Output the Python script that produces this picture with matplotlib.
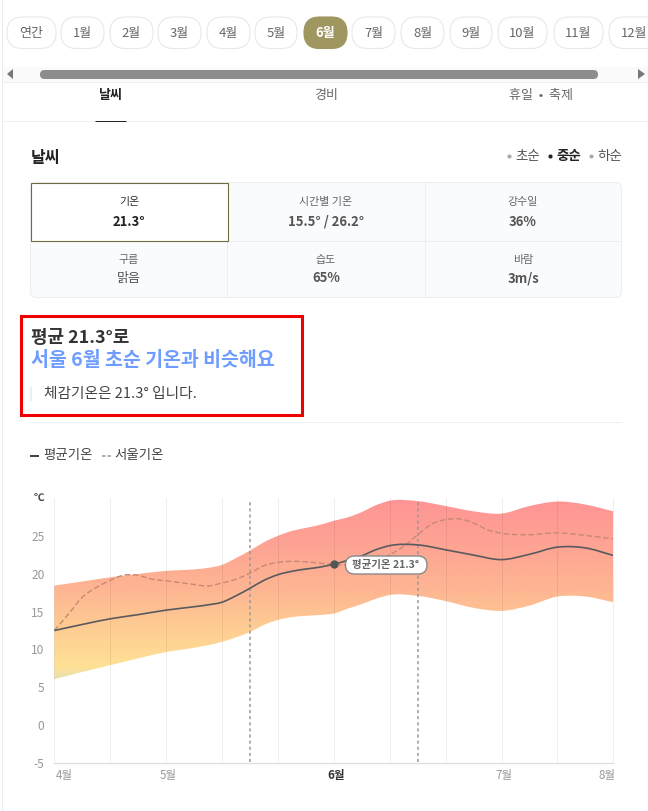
import numpy as np
import matplotlib
matplotlib.use("Agg")
import matplotlib.pyplot as plt
from matplotlib.patches import FancyBboxPatch, Rectangle, PathPatch, Polygon
from matplotlib.path import Path
from matplotlib.colors import LinearSegmentedColormap
from matplotlib.transforms import ScaledTranslation

plt.rcParams['font.family'] = ['Noto Sans CJK KR', 'DejaVu Sans']

# ---- data ----
month_tabs = ['연간', '1월', '2월', '3월', '4월', '5월', '6월', '7월', '8월', '9월', '10월', '11월', '12월']
section_tabs = ['날씨', '경비', '휴일  •  축제']
periods = ['초순', '중순', '하순']
cell_labels = ['기온', '시간별 기온', '강수일', '구름', '습도', '바람']
cell_values = ['21.3°', '15.5° / 26.2°', '36%', '맑음', '65%', '3m/s']

y_ticks = [-5, 0, 5, 10, 15, 20, 25]
x_tick_pos = [0, 2, 5, 8, 10]
x_tick_labels = ['4월', '5월', '6월', '7월', '8월']
band_x = [0, .5, 1, 1.5, 2, 2.5, 2.75, 3, 3.25, 3.5, 3.75, 4, 4.25, 4.5, 4.75, 5, 5.25, 5.5, 5.75, 6, 6.5, 7, 7.5, 8, 8.5, 9, 9.5, 10]
upper = [18.45, 19.0, 19.55, 20.0, 20.4, 20.6, 20.8, 21.2, 22.1, 23.1, 24.2, 25.05, 25.7, 26.1, 26.5, 27.05, 27.5, 28.2, 29.1, 29.7, 29.65, 29.0, 28.3, 28.0, 29.0, 29.6, 29.2, 28.3]
lower = [6.05, 7.0, 7.9, 8.8, 9.65, 10.2, 10.55, 11.0, 11.6, 12.3, 13.25, 13.9, 14.28, 14.45, 14.55, 14.75, 15.4, 16.0, 16.7, 17.2, 17.1, 16.4, 15.5, 15.1, 15.8, 17.0, 17.0, 16.25]
mean = [12.5, 13.3, 14.05, 14.6, 15.2, 15.65, 15.9, 16.25, 17.1, 18.1, 19.15, 19.9, 20.35, 20.65, 20.9, 21.3, 21.8, 22.4, 23.2, 23.75, 23.85, 23.2, 22.5, 21.9, 22.6, 23.55, 23.45, 22.45]
seoul_x = [0, .25, .5, .75, 1, 1.25, 1.5, 1.75, 2, 2.5, 2.75, 3, 3.25, 3.5, 3.75, 4, 4.25, 4.5, 5, 5.5, 6, 6.25, 6.5, 6.75, 7, 7.25, 7.5, 7.75, 8, 8.5, 9, 9.5, 10]
seoul = [12.5, 14.65, 16.9, 18.2, 19.15, 19.85, 19.8, 19.3, 19.1, 18.6, 18.4, 18.8, 19.3, 20.1, 21.1, 21.54, 21.67, 21.6, 21.25, 21.3, 22.55, 23.66, 25.2, 26.6, 27.2, 27.3, 26.75, 25.85, 25.4, 25.2, 25.45, 25.1, 24.65]
marker_x, marker_v = 5, 21.3
period_lines = [3.5, 6.5]

W, H = 648, 811
fig = plt.figure(figsize=(W / 100, H / 100), dpi=100, facecolor='white')
pg = fig.add_axes([0, 0, 1, 1], zorder=1)
pg.set_xlim(0, W); pg.set_ylim(H, 0); pg.axis('off')


def T(x, y, s, px, color='#555555', ha='center', weight='normal', ax=pg, **k):
    return ax.text(x, y + 1.5, s, fontsize=px * 0.72, color=color, ha=ha, va='center', fontweight=weight, **k)


def R(x0, y0, x1, y1, fc='none', ec='none', lw=1, rad=0, z=1):
    if rad:
        p = FancyBboxPatch((x0 + rad, y0 + rad), x1 - x0 - 2 * rad, y1 - y0 - 2 * rad,
                           boxstyle=f'round,pad={rad},rounding_size={rad}', fc=fc, ec=ec, lw=lw, zorder=z)
    else:
        p = Rectangle((x0, y0), x1 - x0, y1 - y0, fc=fc, ec=ec, lw=lw, zorder=z)
    pg.add_patch(p)
    return p


def HL(y, x0, x1, c, lw=1, z=2):
    pg.plot([x0, x1], [y, y], color=c, lw=lw * .72, solid_capstyle='butt', zorder=z)


# left page border
R(2, 0, 3, H, fc='#e9ecf2')

# month pills
pill_edges = [(7, 56), (61, 104), (110, 153), (158, 201), (207, 250), (255, 297), (304, 347),
              (352, 395), (401, 444), (450, 492), (498, 547), (554, 603), (609, 668)]
pill_text_x = [31.5, 82.5, 131.5, 179.5, 228.5, 276, 325.5, 373.5, 422.5, 471, 522.5, 578.5, 634]
for (a, b), tx, m in zip(pill_edges, pill_text_x, month_tabs):
    active = m == '6월'
    R(a, 17, b, 48.5, fc='#a0965f' if active else 'white', ec='#a0965f' if active else '#e8e8e8', lw=.8, rad=15.5)
    T(tx, 31.5, m, 13, color='white' if active else '#666666', weight='bold' if active else 'normal')

# scrollbar
R(3, 67, W, 81.5, fc='#fafafa')
R(40, 70, 598, 79, fc='#8d8d8d', rad=4.5, z=2)
pg.add_patch(Polygon([[13, 69], [13, 79], [7, 74]], fc='#777777', zorder=3))
pg.add_patch(Polygon([[638, 69], [638, 79], [645, 74]], fc='#777777', zorder=3))
HL(82, 3, W, '#eeeeee')

# section tabs
T(111, 94, section_tabs[0], 13, color='#222222', weight='bold')
T(326, 94, section_tabs[1], 13, color='#666666')
T(541, 94, section_tabs[2], 13, color='#666666')
HL(120.5, 3, W, '#eeeeee')
HL(120.5, 95, 126, '#222222', z=3)

# heading
T(31, 156, '날씨', 16, color='#222222', ha='left', weight='bold')
for (dx, tx), p, active in zip([(509, 528), (549.5, 569), (590.5, 610)], periods, [False, True, False]):
    pg.plot([dx], [156], 'o', ms=2, color='#222222' if active else '#aaaaaa', zorder=3)
    T(tx, 154.5, p, 13.5, color='#222222' if active else '#555555', weight='bold' if active else 'normal')

# info table
R(30.5, 182.5, 621.5, 297.5, fc='#fafbfd', ec='#eceef2', lw=.8, rad=6)
pg.plot([227, 227], [183, 297], color='#eceef2', lw=.72, zorder=2)
pg.plot([424.5, 424.5], [183, 297], color='#eceef2', lw=.72, zorder=2)
HL(240.5, 31, 621, '#eceef2')
R(30.5, 183, 227.5, 240.5, fc='white', ec='#6f6a3f', lw=.8, z=3)
col_x = [129, 326, 523]
for i, (lab, val) in enumerate(zip(cell_labels, cell_values)):
    cx = col_x[i % 3]
    r = i // 3
    first = i == 0
    T(cx, 201 + r * 57, lab, 11, color='#333333' if first else '#666666', zorder=5)
    T(cx, 220.5 + r * 56.5, val, 13, color='#222222' if first else '#555555',
      weight='bold' if i != 3 else 'normal', zorder=5)

# highlighted summary
R(21, 316, 302, 414.5, ec='#ee0000', lw=2.2, z=3)
T(31, 336.5, '평균 21.3°로', 18, color='#333333', ha='left', weight='bold')
T(31, 359.5, '서울 6월 초순 기온과 비슷해요', 19.5, color='#6f9dff', ha='left', weight='bold')
R(30, 387, 32, 401, fc='#eeeeee')
T(44, 392.5, '체감기온은 21.3° 입니다.', 14.7, color='#444444', ha='left')
HL(422, 30, 622, '#f0f0f0')

# legend
HL(455.5, 30, 39, '#444444', lw=2)
T(43.5, 453.5, '평균기온', 13.4, color='#444444', ha='left')
pg.plot([102, 111], [455.5, 455.5], color='#aaaaaa', lw=1.3, ls=(0, (2, 1)), zorder=2)
T(114.5, 453.5, '서울기온', 13.4, color='#444444', ha='left')

# ---- chart ----
x0, x1 = 54.3, 613.3
ytop, ybot = 498.5, 762.5
ax = fig.add_axes([x0 / W, 1 - ybot / H, (x1 - x0) / W, (ybot - ytop) / H], zorder=2)
ax.patch.set_alpha(0)
ax.set_xlim(0, 10)
ax.set_ylim(-5, 30)
for s in ['top', 'left', 'right']:
    ax.spines[s].set_visible(False)
ax.spines['bottom'].set_color('#dddddd')
ax.spines['bottom'].set_linewidth(.9)


def beziers(xs, ys):
    xs = np.asarray(xs, float); ys = np.asarray(ys, float)
    m = np.gradient(ys, xs)
    verts = []
    for i in range(len(xs) - 1):
        h = xs[i + 1] - xs[i]
        verts += [(xs[i] + h / 3, ys[i] + m[i] * h / 3),
                  (xs[i + 1] - h / 3, ys[i + 1] - m[i + 1] * h / 3),
                  (xs[i + 1], ys[i + 1])]
    return verts


def curve(xs, ys):
    v = [(xs[0], ys[0])] + beziers(xs, ys)
    return Path(v, [Path.MOVETO] + [Path.CURVE4] * (len(v) - 1))


uv = [(band_x[0], upper[0])] + beziers(band_x, upper)
lv = [(band_x[-1], lower[-1])] + beziers(band_x[::-1], lower[::-1])
verts = uv + lv + [uv[0]]
codes = [Path.MOVETO] + [Path.CURVE4] * (len(uv) - 1) + [Path.LINETO] + [Path.CURVE4] * (len(lv) - 1) + [Path.CLOSEPOLY]
band = PathPatch(Path(verts, codes), fc='none', ec='none', transform=ax.transData)
ax.add_patch(band)

stops = [(0.0, '#e6e0b0'), (0.07, '#ffe196'), (0.30, '#fecb92'), (0.50, '#feb592'),
         (0.75, '#fea394'), (1.0, '#ff9494')]
vmin, vmax = 6, 30
cmap = LinearSegmentedColormap.from_list('band', stops)
grad = np.linspace(1, 0, 256)[:, None]
im = ax.imshow(grad, cmap=cmap, vmin=0, vmax=1, extent=[0, 10, vmin, vmax], aspect='auto', zorder=1)
im.set_clip_path(band)
ax.set_xlim(0, 10); ax.set_ylim(-5, 30)

for i in range(0, 11):
    ax.plot([i, i], [-5, 30], color='black', lw=.75, alpha=.065, zorder=2, clip_on=False)

for px in period_lines:
    ax.plot([px, px], [-5, 29.8], color='#999999', lw=1.1, ls=(0, (2, 2)), zorder=3)

ax.add_patch(PathPatch(curve(seoul_x, seoul), fc='none', ec='#c58a72', lw=1.0, ls=(0, (4, 2)), zorder=4))
ax.add_patch(PathPatch(curve(band_x, mean), fc='none', ec='#5a5a5e', lw=1.2, zorder=5))
ax.plot([marker_x], [marker_v], 'o', ms=5, color='#555558', zorder=6)

ax.set_yticks(y_ticks)
ax.set_yticklabels([str(v) for v in y_ticks], fontsize=8.6, color='#999999')
ax.tick_params(axis='y', length=0, pad=7)
ax.set_xticks(x_tick_pos)
ax.set_xticklabels(x_tick_labels, fontsize=8.3, color='#999999')
ax.tick_params(axis='x', length=0, pad=5)
for lab, off in zip(ax.get_xticklabels(), [10, 2, 2, 2, -6]):
    lab.set_transform(lab.get_transform() + ScaledTranslation(off / 100, 0, fig.dpi_scale_trans))
    if lab.get_text() == '6월':
        lab.set_color('#333333'); lab.set_fontweight('bold')

T(39, 496.5, '℃', 10.5, color='#444444', weight='bold')

R(345.5, 556, 427, 574, fc='white', ec='#8a8a8a', lw=1.0, rad=9, z=7)
T(386, 563.5, '평균기온 21.3°', 10.5, color='#666666', weight='bold', zorder=8)
pg.set_zorder(3)

fig.savefig('out.png', dpi=100, facecolor='white')
